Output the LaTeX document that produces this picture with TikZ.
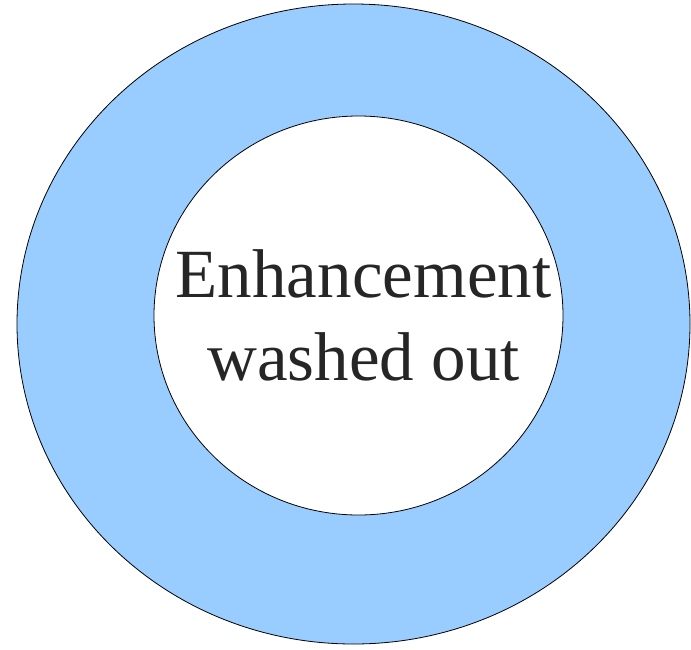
\documentclass[tikz,border=0pt]{standalone}
\usepackage{fontspec}
\setmainfont{Liberation Serif}
\usepackage{xcolor}
\usetikzlibrary{shapes.geometric}
\definecolor{ringblue}{HTML}{99CCFF}

\begin{document}
\begin{tikzpicture}[
  x=1pt, y=-1pt,
  ring/.style = {
    ellipse, draw=black, line width=0.8pt,
    inner sep=0pt, outer sep=0pt
  },
  lbl/.style = {
    font=\fontsize{69}{83}\selectfont, text=black!85,
    anchor=base, inner sep=0pt
  }
]
\useasboundingbox (0,0) rectangle (691,649);
\node[ring, fill=ringblue, minimum width=673pt, minimum height=640pt] (outer) at (353.5,324) {};
\node[ring, fill=white, minimum width=409pt, minimum height=399pt] (inner) at (358.5,315.5) {};
\node[lbl] (line1) at (363.5,297) {Enhancement};
\node[lbl] (line2) at (363.5,380) {washed out};
\end{tikzpicture}
\end{document}
